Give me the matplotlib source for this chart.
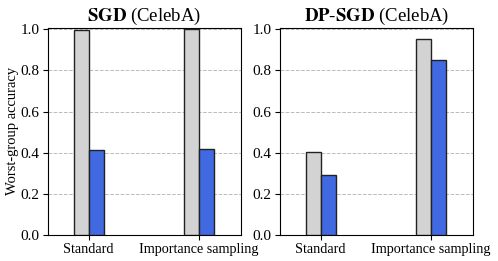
import matplotlib
matplotlib.use("Agg")
from matplotlib import pyplot as plt
import numpy as np

methods = ["Standard", "Importance sampling"]
sgd_gray = [0.995, 1.0]
sgd_blue = [0.415, 0.42]
dpsgd_gray = [0.405, 0.955]
dpsgd_blue = [0.292, 0.85]
titles = [r"$\mathbf{SGD}$ (CelebA)", r"$\mathbf{DP}$-$\mathbf{SGD}$ (CelebA)"]

plt.rcParams['font.family'] = ['Liberation Serif', 'DejaVu Serif']
plt.rcParams['mathtext.fontset'] = 'stix'

fig = plt.figure(figsize=(4.98, 2.61), dpi=100)
ax1 = fig.add_axes([0.0964, 0.0996, 0.3876, 0.7944])
ax2 = fig.add_axes([0.5622, 0.0996, 0.3876, 0.7944])

x = np.arange(len(methods))
w = 0.135
for ax, gray, blue, title in [(ax1, sgd_gray, sgd_blue, titles[0]),
                              (ax2, dpsgd_gray, dpsgd_blue, titles[1])]:
    ax.bar(x - w / 2, gray, w, color='lightgray', edgecolor='#222222', linewidth=1, zorder=3)
    ax.bar(x + w / 2, blue, w, color='royalblue', edgecolor='#222222', linewidth=1, zorder=3)
    ax.set_xticks(x)
    ax.set_xticklabels(methods, fontsize=10.2)
    ax.set_xlim(-0.37, 1.385)
    ax.set_ylim(0, 1.008)
    ax.set_yticks(np.arange(0, 1.01, 0.2))
    ax.tick_params(axis='y', labelsize=11, pad=2.5)
    ax.tick_params(axis='x', pad=2)
    ax.grid(axis='y', linestyle='--', color='#bbbbbb', linewidth=0.7, zorder=0)
    ax.set_title(title, fontsize=13.5, pad=5)

ax1.set_ylabel("Worst-group accuracy", fontsize=10.5)
ax1.yaxis.set_label_coords(-0.15, 0.5)

fig.savefig("out.png", dpi=100)
